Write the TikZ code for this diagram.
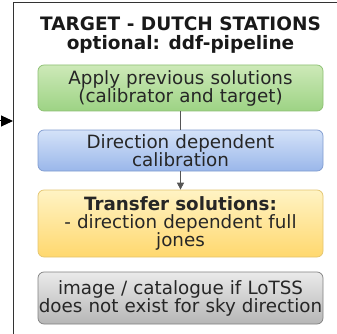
\documentclass[tikz,border=0pt]{standalone}
\usepackage{fontspec}
\setmainfont{DejaVu Sans}
\usetikzlibrary{arrows.meta}
\definecolor{framecol}{HTML}{333333}
\definecolor{linkcol}{HTML}{555555}
\definecolor{greentop}{HTML}{CDE9B8}
\definecolor{greenbot}{HTML}{9DD384}
\definecolor{greenline}{HTML}{8CBF72}
\definecolor{bluetop}{HTML}{D4E2F8}
\definecolor{bluebot}{HTML}{9AB7EA}
\definecolor{blueline}{HTML}{7F9BCF}
\definecolor{yellowtop}{HTML}{FFF3C4}
\definecolor{yellowbot}{HTML}{FFD86E}
\definecolor{yellowline}{HTML}{E3C46E}
\definecolor{greytop}{HTML}{EAEAEA}
\definecolor{greybot}{HTML}{B6B6B6}
\definecolor{greyline}{HTML}{808080}
\tikzset{
  stage/.style={draw, rounded corners=6pt, line width=0.7pt,
    minimum width=285pt, text width=285pt, align=center, inner sep=0pt,
    font=\fontsize{18.3}{18}\selectfont, text=black!85},
  greenstage/.style={stage, draw=greenline, top color=greentop, bottom color=greenbot},
  bluestage/.style={stage, draw=blueline, top color=bluetop, bottom color=bluebot},
  yellowstage/.style={stage, draw=yellowline, top color=yellowtop, bottom color=yellowbot},
  greystage/.style={stage, draw=greyline, top color=greytop, bottom color=greybot},
  link/.style={draw=linkcol, line width=0.8pt}
}
\begin{document}
\begin{tikzpicture}[x=1pt, y=1pt]
  \useasboundingbox (0,0) rectangle (337,-334);
  % enclosing frame, open to the right and bottom
  \draw[framecol, line width=1pt] (13,-334) -- (13,-3) -- (337,-3);
  % incoming arrow into the frame
  \coordinate (src) at (0,-121);
  \coordinate (inlet) at (13,-121);
  \draw[-{Triangle[length=12pt,width=11pt]}, line width=1pt, black] (src) -- (inlet);

  \node[align=center, font=\fontsize{18.5}{19.5}\selectfont\bfseries, text=black!90] (title) at (180.5,-35)
    {TARGET - DUTCH STATIONS\\optional: ddf-pipeline};

  \node[greenstage, minimum height=46pt] (apply) at (180.5,-88)
    {Apply previous solutions\\(calibrator and target)};
  \node[bluestage, minimum height=41pt] (ddcal) at (180.5,-150.5)
    {Direction dependent\\calibration};
  \node[yellowstage, minimum height=67pt] (transfer) at (180.5,-223.5)
    {\textbf{Transfer solutions:}\\- direction dependent full\\jones};
  \node[greystage, minimum height=52pt] (image) at (180.5,-298)
    {image / catalogue if LoTSS\\does not exist for sky direction};

  \draw[link] (apply.south) -- (ddcal.north);
  \draw[link, -{Triangle[length=7pt,width=7pt]}] (ddcal.south) -- (transfer.north);
\end{tikzpicture}
\end{document}
